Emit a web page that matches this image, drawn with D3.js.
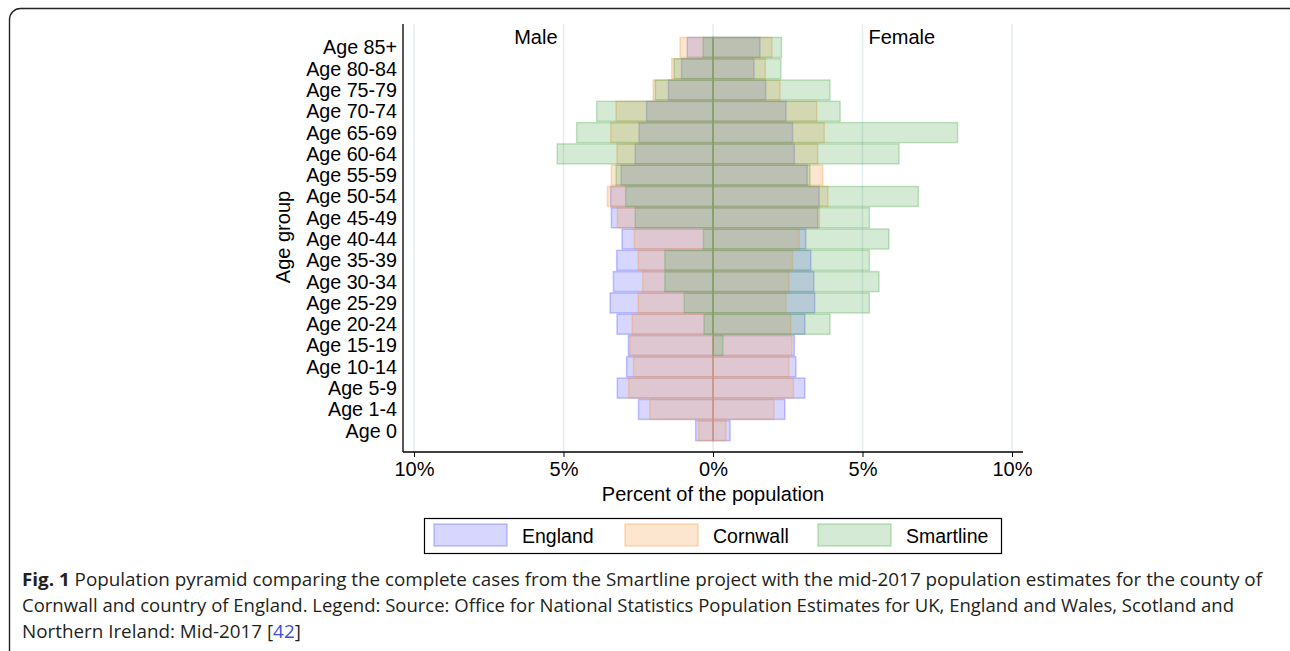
<!doctype html>
<html>
<head>
<meta charset="utf-8">
<title>Population pyramid</title>
<script src="https://cdn.jsdelivr.net/npm/d3@7"></script>
<style>
  body { margin: 0; background: #fff; }
  svg text { font-family: "Liberation Sans", Arial, sans-serif; }
  .caption { font-family: "Open Sans", "Noto Sans", sans-serif; fill: #231f20; }
</style>
</head>
<body>
<svg id="chart" width="1290" height="651"></svg>
<script>
// age groups, top row first
var ages = ["Age 85+", "Age 80-84", "Age 75-79", "Age 70-74", "Age 65-69", "Age 60-64",
  "Age 55-59", "Age 50-54", "Age 45-49", "Age 40-44", "Age 35-39", "Age 30-34",
  "Age 25-29", "Age 20-24", "Age 15-19", "Age 10-14", "Age 5-9", "Age 1-4", "Age 0"];

// percent of population
var englandMale   = [0.86, 1.05, 1.49, 2.22, 2.47, 2.60, 3.07, 3.42, 3.40, 3.04, 3.22, 3.33, 3.44, 3.21, 2.83, 2.89, 3.20, 2.49, 0.58];
var englandFemale = [1.57, 1.37, 1.76, 2.44, 2.66, 2.72, 3.15, 3.55, 3.50, 3.10, 3.27, 3.37, 3.40, 3.07, 2.72, 2.77, 3.07, 2.40, 0.57];
var cornwallMale   = [1.10, 1.38, 2.00, 3.24, 3.42, 3.21, 3.40, 3.53, 3.20, 2.63, 2.50, 2.35, 2.50, 2.70, 2.78, 2.66, 2.82, 2.11, 0.48];
var cornwallFemale = [1.97, 1.75, 2.24, 3.47, 3.72, 3.50, 3.67, 3.84, 3.56, 2.88, 2.66, 2.54, 2.44, 2.60, 2.64, 2.54, 2.69, 2.04, 0.43];
var smartMale   = [0.33, 1.30, 1.93, 3.89, 4.56, 5.21, 3.24, 2.92, 2.60, 0.32, 1.61, 1.61, 0.96, 0.30, 0.00, 0.00, 0.00, 0.00, 0.00];
var smartFemale = [2.29, 2.27, 3.91, 4.25, 8.18, 6.22, 3.24, 6.87, 5.23, 5.88, 5.23, 5.55, 5.23, 3.91, 0.33, 0.00, 0.00, 0.00, 0.00];

var seriesNames = ["England", "Cornwall", "Smartline"];
var xTicks = [-10, -5, 0, 5, 10];

var series = [
  { name: seriesNames[0], male: englandMale, female: englandFemale, color: "#5a5aff" },
  { name: seriesNames[1], male: cornwallMale, female: cornwallFemale, color: "#f79b43" },
  { name: seriesNames[2], male: smartMale, female: smartFemale, color: "#57ab57" }
];

var svg = d3.select("#chart");

// outer frame of the figure
svg.append("rect")
  .attr("x", 9.5).attr("y", 8.5)
  .attr("width", 1300).attr("height", 660)
  .attr("rx", 11)
  .attr("fill", "none")
  .attr("stroke", "#222")
  .attr("stroke-width", 1.4);

var plotLeft = 403, plotRight = 1023, plotTop = 24, plotBottom = 452;

var x = d3.scaleLinear().domain([-10, 10]).range([414, 1012]);
var y = d3.scaleBand().domain(ages).range([36.8, 441.3]).paddingInner(0.06).paddingOuter(0.03);

// grid lines
svg.append("g").selectAll("line")
  .data(xTicks)
  .enter().append("line")
  .attr("x1", function(d) { return x(d); })
  .attr("x2", function(d) { return x(d); })
  .attr("y1", plotTop).attr("y2", plotBottom)
  .attr("stroke", "#e3ebef")
  .attr("stroke-width", 1.5);

// bars: one rect per side per age, drawn series by series
series.forEach(function(s) {
  var g = svg.append("g");
  var rows = ages.map(function(a, i) { return { age: a, m: s.male[i], f: s.female[i] }; });
  g.selectAll("rect.m")
    .data(rows.filter(function(d) { return d.m > 0; }))
    .enter().append("rect")
    .attr("class", "m")
    .attr("x", function(d) { return x(-d.m); })
    .attr("width", function(d) { return x(0) - x(-d.m); })
    .attr("y", function(d) { return y(d.age); })
    .attr("height", y.bandwidth())
    .attr("fill", s.color).attr("fill-opacity", 0.25)
    .attr("stroke", s.color).attr("stroke-opacity", 0.35).attr("stroke-width", 1.5);
  g.selectAll("rect.f")
    .data(rows.filter(function(d) { return d.f > 0; }))
    .enter().append("rect")
    .attr("class", "f")
    .attr("x", x(0))
    .attr("width", function(d) { return x(d.f) - x(0); })
    .attr("y", function(d) { return y(d.age); })
    .attr("height", y.bandwidth())
    .attr("fill", s.color).attr("fill-opacity", 0.25)
    .attr("stroke", s.color).attr("stroke-opacity", 0.35).attr("stroke-width", 1.5);
});

// axes
svg.append("line")
  .attr("x1", plotLeft).attr("x2", plotLeft)
  .attr("y1", plotTop).attr("y2", plotBottom)
  .attr("stroke", "#000").attr("stroke-width", 1.3);

var xAxis = d3.axisBottom(x)
  .tickValues(xTicks)
  .tickSize(5)
  .tickSizeOuter(0)
  .tickFormat(function(d) { return Math.abs(d) + "%"; });

var gx = svg.append("g")
  .attr("transform", "translate(0," + plotBottom + ")")
  .call(xAxis);
gx.select(".domain").remove();
gx.append("line")
  .attr("x1", plotLeft).attr("x2", plotRight)
  .attr("stroke", "#000").attr("stroke-width", 1.3);
gx.selectAll(".tick line").attr("stroke", "#000");
gx.selectAll(".tick text")
  .attr("y", 10)
  .attr("fill", "#000")
  .style("font-size", "20px")
  .style("font-family", "'Liberation Sans', Arial, sans-serif");

// y labels
svg.append("g").selectAll("text")
  .data(ages)
  .enter().append("text")
  .attr("x", 397)
  .attr("y", function(d) { return y(d) + y.bandwidth() / 2 + 7; })
  .attr("text-anchor", "end")
  .style("font-size", "19.7px")
  .text(function(d) { return d; });

svg.append("text")
  .attr("transform", "translate(290,237) rotate(-90)")
  .attr("text-anchor", "middle")
  .style("font-size", "20px")
  .text("Age group");

svg.append("text")
  .attr("x", 713).attr("y", 501)
  .attr("text-anchor", "middle")
  .style("font-size", "20px")
  .text("Percent of the population");

svg.append("text")
  .attr("x", x(-5.2)).attr("y", 44)
  .attr("text-anchor", "end")
  .style("font-size", "20px")
  .text("Male");

svg.append("text")
  .attr("x", x(5.2)).attr("y", 44)
  .attr("text-anchor", "start")
  .style("font-size", "20px")
  .text("Female");

// legend
var legend = svg.append("g");
legend.append("rect")
  .attr("x", 424.5).attr("y", 518.5)
  .attr("width", 577).attr("height", 35)
  .attr("fill", "#fff").attr("stroke", "#000").attr("stroke-width", 1.2);

var legendX = [434, 625, 818];
var item = legend.selectAll("g.item")
  .data(series)
  .enter().append("g")
  .attr("transform", function(d, i) { return "translate(" + legendX[i] + ",524)"; });
item.append("rect")
  .attr("width", 73).attr("height", 22)
  .attr("fill", function(d) { return d.color; }).attr("fill-opacity", 0.25)
  .attr("stroke", function(d) { return d.color; }).attr("stroke-opacity", 0.35).attr("stroke-width", 1.5);
item.append("text")
  .attr("x", 88)
  .attr("y", 18.5)
  .style("font-size", "19.5px")
  .text(function(d) { return d.name; });

// caption
var capLines = [
  [["Fig. 1", true], [" Population pyramid comparing the complete cases from the Smartline project with the mid-2017 population estimates for the county of", false]],
  [["Cornwall and country of England. Legend: Source: Office for National Statistics Population Estimates for UK, England and Wales, Scotland and", false]],
  [["Northern Ireland: Mid-2017 [", false], ["42", false, true], ["]", false]]
];
var capY = [586, 612, 638];
var capW = [1240, 1212, null];
var capNodes = [];
capLines.forEach(function(line, i) {
  var t = svg.append("text")
    .attr("class", "caption")
    .attr("x", 22).attr("y", capY[i])
    .style("font-size", "17.5px");
  line.forEach(function(p) {
    t.append("tspan")
      .style("font-weight", p[1] ? "bold" : "normal")
      .attr("fill", p[2] ? "#3d4fd6" : null)
      .text(p[0]);
  });
  capNodes.push(t);
});
var ratio = capW[0] / capNodes[0].node().getComputedTextLength();
capNodes.forEach(function(t, i) {
  var w = capW[i] || t.node().getComputedTextLength() * ratio;
  t.attr("textLength", w).attr("lengthAdjust", "spacingAndGlyphs");
});
</script>
</body>
</html>
